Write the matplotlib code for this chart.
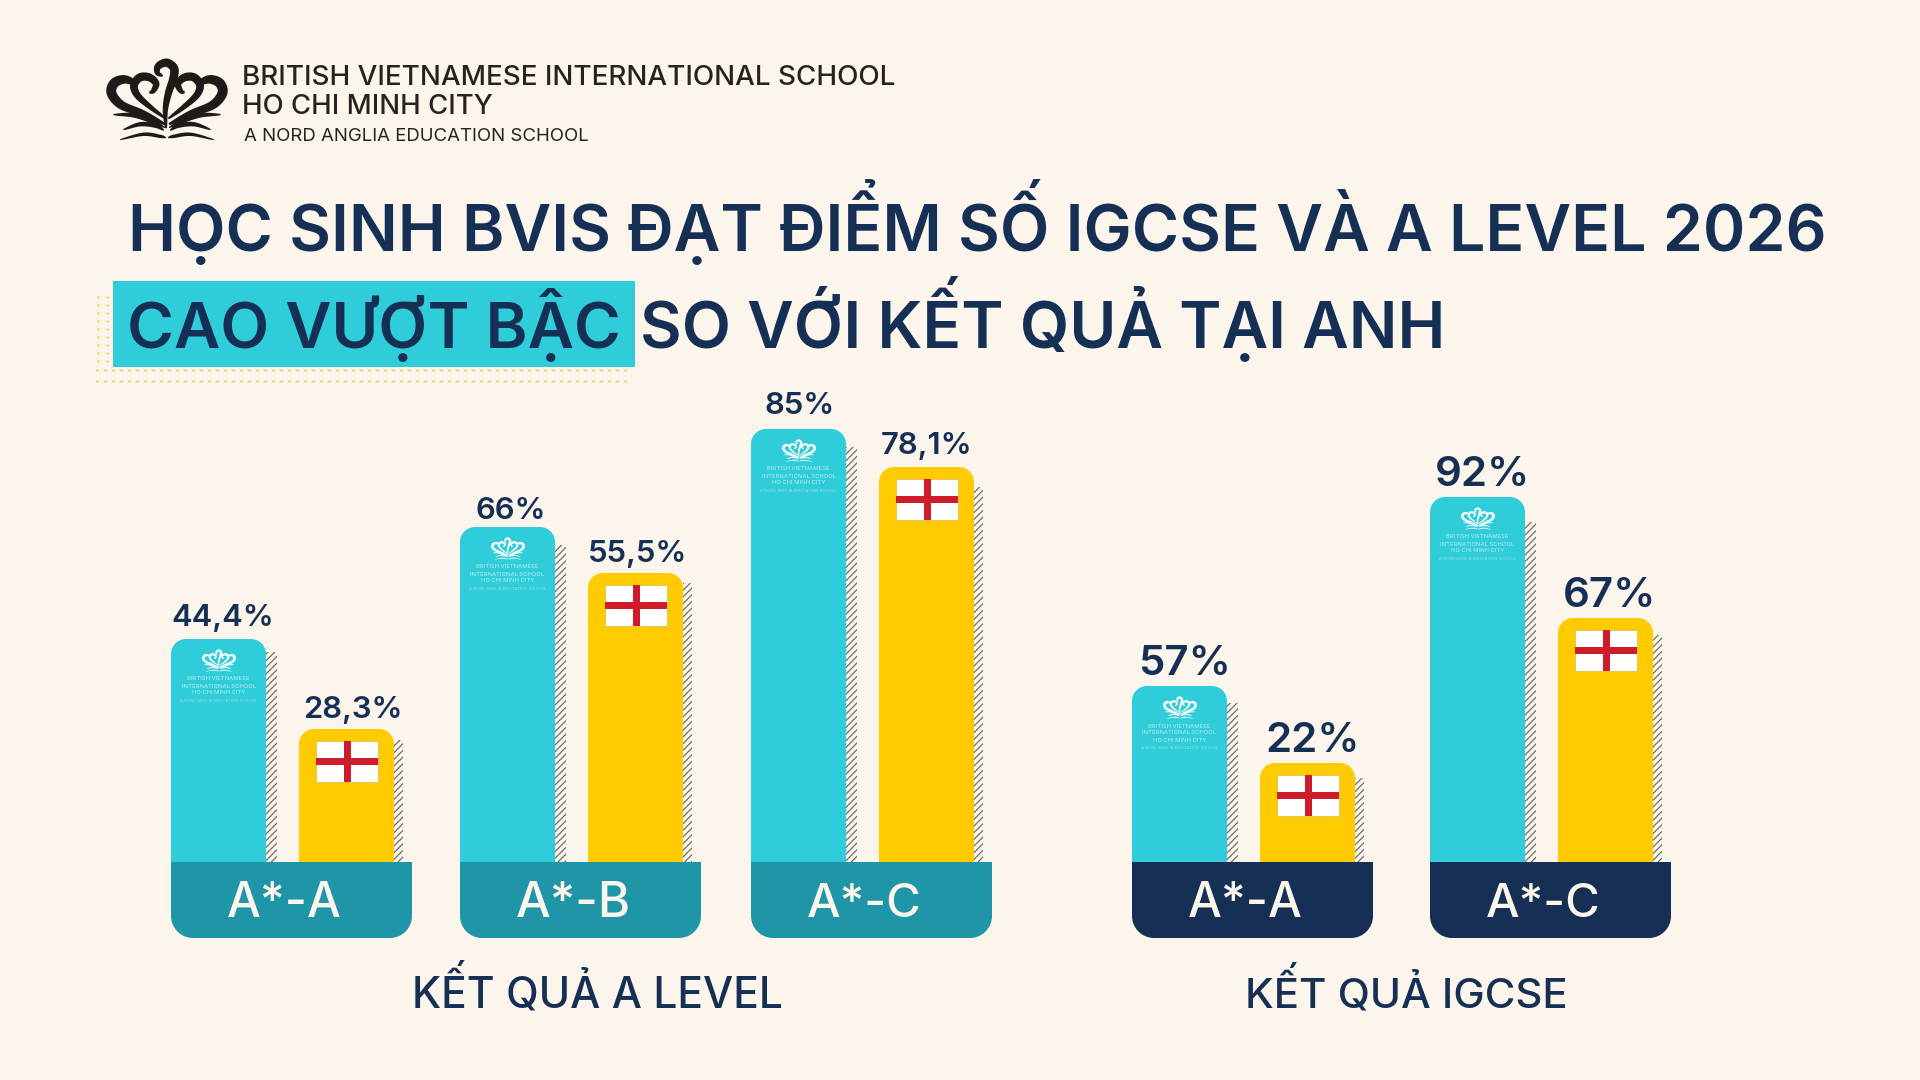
import matplotlib
matplotlib.use("Agg")
import matplotlib.pyplot as plt
from matplotlib.path import Path
from matplotlib.patches import PathPatch, Rectangle, Polygon
import numpy as np

# ---- data ----
alevel_grades = ["A*-A", "A*-B", "A*-C"]
alevel_bvis_labels = ["44,4%", "66%", "85%"]
alevel_uk_labels = ["28,3%", "55,5%", "78,1%"]
# bar lengths as drawn in the reference (they are not proportional to the printed values)
alevel_bvis_drawn = [44.6, 67.0, 86.6]
alevel_uk_drawn = [26.6, 57.8, 79.0]

igcse_grades = ["A*-A", "A*-C"]
igcse_bvis_labels = ["57%", "92%"]
igcse_uk_labels = ["22%", "67%"]
igcse_bvis_drawn = [35.2, 73.0]
igcse_uk_drawn = [19.8, 48.8]

title_line1 = "HỌC SINH BVIS ĐẠT ĐIỂM SỐ IGCSE VÀ A LEVEL 2026"
title_hi = "CAO VƯỢT BẬC"
title_rest = "SO VỚI KẾT QUẢ TẠI ANH"
group_titles = ["KẾT QUẢ A LEVEL", "KẾT QUẢ IGCSE"]
school_lines = ["BRITISH VIETNAMESE INTERNATIONAL SCHOOL", "HO CHI MINH CITY", "A NORD ANGLIA EDUCATION SCHOOL"]

# ---- style ----
BG = "#FCF5EC"; NAVY = "#152F55"; TEAL = "#2FCCD9"; YEL = "#FFCB00"; DTEAL = "#1E96A8"; RED = "#D01C2A"
FONT = "Inter"
plt.rcParams["font.family"] = [FONT, "DejaVu Sans"]
plt.rcParams["hatch.linewidth"] = 0.9

fig = plt.figure(figsize=(19.2, 10.8), dpi=100, facecolor=BG)
px = fig.add_axes([0, 0, 1, 1]); px.set_xlim(0, 1920); px.set_ylim(1080, 0); px.axis("off")

BASE = 862
UNIT = 5.0  # px per drawn unit
bx = fig.add_axes([0, (1080 - BASE) / 1080, 1, BASE / 1080], zorder=2)
bx.set_xlim(0, 1920); bx.set_ylim(0, BASE / UNIT); bx.axis("off"); bx.patch.set_alpha(0)

fig_top = fig.add_axes([0, 0, 1, 1], zorder=5)
fig_top.set_xlim(0, 1920); fig_top.set_ylim(1080, 0); fig_top.axis("off"); fig_top.patch.set_alpha(0)


def fit_text(ax, x, y, s, width, weight="semibold", color=NAVY, ha="left", zorder=5):
    t = ax.text(x, y, s, fontsize=20, fontweight=weight, color=color, ha=ha, va="baseline", zorder=zorder)
    w = t.get_window_extent(fig.canvas.get_renderer()).width
    t.set_fontsize(20 * width / w)
    return t


def top_round(ax, x0, x1, h, r, ry, color, z=3):
    k = 0.45
    v = [(x0, 0), (x0, h - ry), (x0, h - ry * k), (x0 + r * k, h), (x0 + r, h), (x1 - r, h),
         (x1 - r * k, h), (x1, h - ry * k), (x1, h - ry), (x1, 0), (x0, 0)]
    c = [Path.MOVETO, Path.LINETO, Path.CURVE4, Path.CURVE4, Path.CURVE4, Path.LINETO,
         Path.CURVE4, Path.CURVE4, Path.CURVE4, Path.LINETO, Path.CLOSEPOLY]
    ax.add_patch(PathPatch(Path(v, c), fc=color, ec="none", zorder=z))


def band(x0, x1, color, s):
    y0, y1, r, k = BASE, 938, 22, 0.45
    v = [(x0, y0), (x1, y0), (x1, y1 - r), (x1, y1 - r * k), (x1 - r * k, y1), (x1 - r, y1), (x0 + r, y1),
         (x0 + r * k, y1), (x0, y1 - r * k), (x0, y1 - r), (x0, y0)]
    c = [Path.MOVETO, Path.LINETO, Path.LINETO, Path.CURVE4, Path.CURVE4, Path.CURVE4, Path.LINETO,
         Path.CURVE4, Path.CURVE4, Path.CURVE4, Path.CLOSEPOLY]
    px.add_patch(PathPatch(Path(v, c), fc=color, ec="none", zorder=6))
    fit_text(fig_top, (x0 + x1) / 2 - 7.5, 917, s, 115, weight="medium", color=BG, ha="center")


# emblem outlines: centre lines of tapered strokes, on a 420x300 artboard
LOGO_MIRRORED = [
    ([(195, 222), (130, 190), (65, 165), (35, 130), (42, 100), (70, 88), (95, 95), (100, 110)], 30),
    ([(197, 205), (150, 170), (112, 135), (102, 105), (120, 82), (148, 82), (168, 100), (160, 122), (148, 128)], 25),
    ([(40, 193), (100, 195), (150, 210), (195, 232)], 15),
    ([(70, 238), (120, 222), (165, 226), (192, 240)], 14),
    ([(60, 268), (130, 252), (180, 258), (198, 262)], 11),
]
LOGO_CENTRE = [(198, 234), (196, 180), (205, 130), (220, 85), (222, 55), (200, 38), (175, 48), (172, 68), (188, 78)]


def tapered(pts, wmax, n=60):
    p = np.array(pts, float)
    q = np.vstack([2 * p[0] - p[1], p, 2 * p[-1] - p[-2]])
    out = []
    for i in range(1, len(q) - 2):
        for t in np.linspace(0, 1, n // (len(p) - 1) + 2)[:-1]:
            out.append(0.5 * (2 * q[i] + (q[i + 1] - q[i - 1]) * t
                              + (2 * q[i - 1] - 5 * q[i] + 4 * q[i + 1] - q[i + 2]) * t ** 2
                              + (3 * q[i] - q[i - 1] - 3 * q[i + 1] + q[i + 2]) * t ** 3))
    out.append(p[-1])
    c = np.array(out)
    d = np.gradient(c, axis=0)
    nrm = np.c_[-d[:, 1], d[:, 0]] / np.maximum(np.hypot(*d.T), 1e-6)[:, None]
    s = np.linspace(0, 1, len(c))
    w = wmax * (0.2 + 0.8 * np.sin(np.pi * s) ** 0.7) / 2
    return np.vstack([c + nrm * w[:, None], (c - nrm * w[:, None])[::-1]])


def logo(x0, y0, w, h, color, ax, z=7, alpha=1.0):
    sx, sy = w / 342, h / 239

    def place(poly):
        return np.c_[x0 + (poly[:, 0] - 30) * sx, y0 + (poly[:, 1] - 33) * sy]

    for pts, lw in LOGO_MIRRORED:
        poly = tapered(pts, lw)
        ax.add_patch(Polygon(place(poly), fc=color, ec="none", zorder=z, alpha=alpha))
        mir = poly.copy(); mir[:, 0] = 402 - mir[:, 0]
        ax.add_patch(Polygon(place(mir), fc=color, ec="none", zorder=z, alpha=alpha))
    ax.add_patch(Polygon(place(tapered(LOGO_CENTRE, 26)), fc=color, ec="none", zorder=z, alpha=alpha))


# header
logo(110, 61, 114, 80, "#1E1A18", px)
fit_text(px, 242, 85, school_lines[0], 654, weight="medium", color="#26221F")
fit_text(px, 242, 114, school_lines[1], 250, weight="medium", color="#26221F")
fit_text(px, 244, 141, school_lines[2], 346, weight="normal", color="#26221F")

# title
fit_text(px, 128, 251, title_line1, 1694)
px.add_patch(Rectangle((113, 281), 522, 86, fc=TEAL, ec="none", zorder=3))
fit_text(px, 127, 348, title_hi, 493)
fit_text(px, 640, 348, title_rest, 803)
DOT = "#F7D468"
dx = np.arange(97, 628, 8.0)
px.scatter(dx, np.full_like(dx, 370), s=4, color=DOT, lw=0, zorder=2)
px.scatter(dx, np.full_like(dx, 381), s=4, color=DOT, lw=0, zorder=2)
dy = np.arange(297, 368, 8.0)
px.scatter(np.full_like(dy, 98), dy, s=4, color=DOT, lw=0, zorder=2)
px.scatter(np.full_like(dy, 107), dy, s=4, color=DOT, lw=0, zorder=2)


def draw_pair(left, bvis_h, uk_h, bvis_lab, uk_lab, grade, band_color, lab_px, gaps, xoff, drops):
    W = 95
    uk_left = left + 128
    # shadows
    bx.bar(left + W, bvis_h - drops[0] / UNIT, width=11, align="edge", color="none", edgecolor="#6E6E6E",
           hatch="/////", lw=0, zorder=1)
    bx.bar(uk_left + W, uk_h - drops[1] / UNIT, width=9, align="edge", color="none", edgecolor="#6E6E6E",
           hatch="/////", lw=0, zorder=1)
    top_round(bx, left, left + W, bvis_h, 15, 15 / UNIT, TEAL)
    top_round(bx, uk_left, uk_left + W, uk_h, 15, 15 / UNIT, YEL)
    band(left, left + 241, band_color, grade)
    # value labels
    for cx, h, s, gap, xo in ((left + W / 2, bvis_h, bvis_lab, gaps[0], xoff[0]),
                              (uk_left + W / 2, uk_h, uk_lab, gaps[1], xoff[1])):
        px.text(cx + xo, BASE - h * UNIT - gap, s, fontsize=lab_px * 0.72, fontweight="semibold", color=NAVY,
                ha="center", va="baseline", zorder=6)
    # school mark on teal bar
    top = BASE - bvis_h * UNIT
    logo(left + 32, top + 11, 32, 22, "white", fig_top, z=6, alpha=0.95)
    for txt, yy in (("BRITISH VIETNAMESE", 40), ("INTERNATIONAL SCHOOL", 47), ("HO CHI MINH CITY", 54)):
        fig_top.text(left + W / 2, top + yy, txt, fontsize=4.2, color="#D8F4F6", alpha=0.7, ha="center", va="center",
                     fontweight="medium", zorder=6)
    fig_top.text(left + W / 2, top + 62, "A NORD ANGLIA EDUCATION SCHOOL", fontsize=3.0, color="#BFEDF0", alpha=0.7,
                 ha="center", va="center", zorder=6)
    # flag on yellow bar
    t2 = BASE - uk_h * UNIT
    fx, fy, fw, fh = uk_left + 17, t2 + 12, 62, 41
    fig_top.add_patch(Rectangle((fx, fy), fw, fh, fc="white", ec="#D8B84A", lw=0.5, zorder=6))
    fig_top.add_patch(Rectangle((fx + fw / 2 - 3.5, fy), 7, fh, fc=RED, ec="none", zorder=7))
    fig_top.add_patch(Rectangle((fx, fy + fh / 2 - 3.5), fw, 7, fc=RED, ec="none", zorder=7))


a_layout = [(171, (13, 11), (4, 6), (13, 11)), (460, (8, 11), (3, 2), (18, 10)), (751, (15, 13), (1, 0), (18, 20))]
i_layout = [(1132, (11, 11), (5, 5), (17, 15)), (1430, (11, 11), (5, 4), (25, 17))]

for (left, gaps, xo, drops), a, b, la, lb, g in zip(a_layout, alevel_bvis_drawn, alevel_uk_drawn,
                                                    alevel_bvis_labels, alevel_uk_labels, alevel_grades):
    draw_pair(left, a, b, la, lb, g, DTEAL, 31, gaps, xo, drops)
for (left, gaps, xo, drops), a, b, la, lb, g in zip(i_layout, igcse_bvis_drawn, igcse_uk_drawn,
                                                    igcse_bvis_labels, igcse_uk_labels, igcse_grades):
    draw_pair(left, a, b, la, lb, g, NAVY, 42, gaps, xo, drops)

fit_text(px, 597, 1008, group_titles[0], 372, weight="medium", ha="center")
fit_text(px, 1406, 1008, group_titles[1], 323, weight="medium", ha="center")

fig.savefig("out.png", dpi=100, facecolor=BG)
